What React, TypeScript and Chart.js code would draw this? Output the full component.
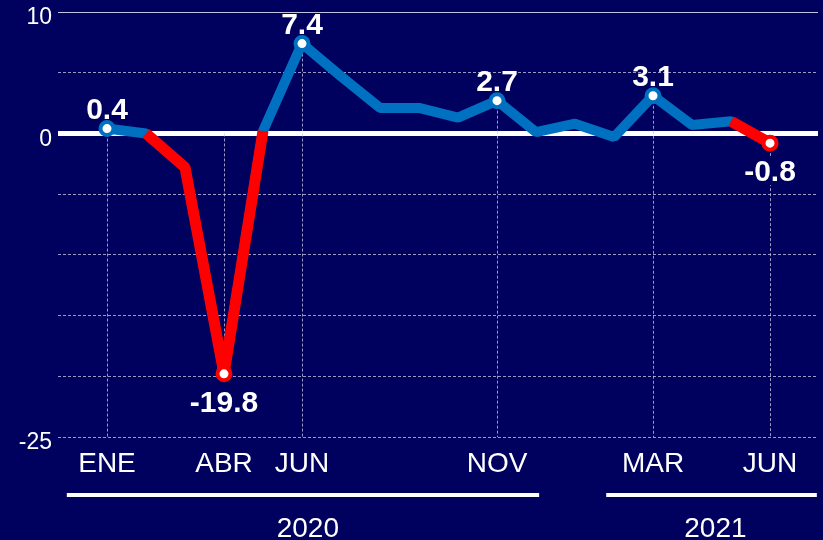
import React, { useEffect, useRef } from 'react';
import { Chart, registerables } from 'chart.js';

Chart.register(...registerables);

// ---- data ----
const months = ['ENE', 'FEB', 'MAR', 'ABR', 'MAY', 'JUN', 'JUL', 'AGO', 'SEP', 'OCT', 'NOV', 'DIC', 'ENE', 'FEB', 'MAR', 'ABR', 'MAY', 'JUN'];
const monthTicks = ['ENE', '', '', 'ABR', '', 'JUN', '', '', '', '', 'NOV', '', '', '', 'MAR', '', '', 'JUN'];
const growth = [0.4, 0.0, -2.8, -19.8, 0.2, 7.4, 4.7, 2.1, 2.1, 1.3, 2.7, 0.1, 0.8, -0.3, 3.1, 0.7, 1.0, -0.8];
const declineOverlay = [null, 0.0, -2.8, -19.8, 0.2, null, null, null, null, null, null, null, null, null, null, null, 1.0, -0.8];
const labelledPoints = [0, 3, 5, 10, 14, 17];
const guideTop = [0.4, 0, 7.4, 2.7, 3.1, -0.8];
const guideBottom = [-25, -19.8, -25, -25, -25, -25];
const yTickLabels = [10, 0, -25];
const yearLabels = ['2020', '2021'];

// ---- style ----
const BG = '#00005E';
const BLUE = '#0070C0';
const RED = '#FF0000';
const FONT = '"Liberation Sans", Arial, Helvetica, sans-serif';
const GRID = 'rgba(205,205,235,0.75)';
const yearSpan = [
  { from: -1.03, to: 11.08, center: 5.15 },
  { from: 12.8, to: 18.2, center: 15.6 },
];

const decorPlugin = {
  id: 'decor',
  beforeDatasetsDraw(chart: any) {
    const { ctx } = chart;
    const xs = chart.scales.x;
    const ys = chart.scales.y;
    ctx.save();
    // guide lines
    ctx.strokeStyle = GRID;
    ctx.lineWidth = 1;
    ctx.setLineDash([3, 2]);
    labelledPoints.forEach((idx, k) => {
      const x = Math.round(xs.getPixelForValue(idx)) + 0.5;
      ctx.beginPath();
      ctx.moveTo(x, ys.getPixelForValue(guideTop[k]));
      ctx.lineTo(x, ys.getPixelForValue(guideBottom[k]));
      ctx.stroke();
    });
    ctx.setLineDash([]);
    // value labels
    ctx.font = `bold 30px ${FONT}`;
    ctx.textAlign = 'center';
    ctx.textBaseline = 'alphabetic';
    labelledPoints.forEach((idx) => {
      const v = growth[idx];
      const px = xs.getPixelForValue(idx);
      const py = ys.getPixelForValue(v);
      const text = v.toFixed(1);
      const by = v >= 0 ? py - 10 : py + 38;
      if (v < 0) {
        const w = ctx.measureText(text).width;
        ctx.fillStyle = BG;
        ctx.fillRect(px - w / 2 - 2, by - 25, w + 4, 29);
      }
      ctx.fillStyle = '#FFFFFF';
      ctx.fillText(text, px, by);
    });
    ctx.restore();
  },
  afterDraw(chart: any) {
    const { ctx, chartArea } = chart;
    const xs = chart.scales.x;
    ctx.save();
    ctx.fillStyle = '#FFFFFF';
    ctx.strokeStyle = '#FFFFFF';
    ctx.lineWidth = 4;
    ctx.font = `28px ${FONT}`;
    ctx.textAlign = 'center';
    ctx.textBaseline = 'alphabetic';
    yearLabels.forEach((label, k) => {
      const s = yearSpan[k];
      const y = chartArea.bottom + 58;
      ctx.beginPath();
      ctx.moveTo(xs.getPixelForValue(s.from), y);
      ctx.lineTo(xs.getPixelForValue(s.to), y);
      ctx.stroke();
      ctx.fillText(label, xs.getPixelForValue(s.center), chartArea.bottom + 100);
    });
    ctx.restore();
  },
};

export default function App() {
  const canvasRef = useRef<HTMLCanvasElement | null>(null);

  useEffect(() => {
    const canvas = canvasRef.current;
    if (!canvas) return;
    const redMarkers = [3, 17];
    const chart = new Chart(canvas, {
      type: 'line',
      data: {
        datasets: [
          {
            label: 'Caída',
            data: declineOverlay.map((y, i) => ({ x: i, y })),
            borderColor: RED,
            backgroundColor: RED,
            borderWidth: 11,
            borderJoinStyle: 'bevel',
            tension: 0,
            spanGaps: false,
            pointRadius: (c: any) => (redMarkers.includes(c.dataIndex) ? 6.5 : 0),
            pointBorderColor: RED,
            pointBackgroundColor: '#FFFFFF',
            pointBorderWidth: 4,
            order: 1,
          },
          {
            label: 'Variación',
            data: growth.map((y, i) => ({ x: i, y })),
            borderColor: BLUE,
            backgroundColor: BLUE,
            borderWidth: 10,
            borderJoinStyle: 'bevel',
            tension: 0,
            pointRadius: (c: any) =>
              labelledPoints.includes(c.dataIndex) && !redMarkers.includes(c.dataIndex) ? 6.5 : 0,
            pointBorderColor: BLUE,
            pointBackgroundColor: '#FFFFFF',
            pointBorderWidth: 4,
            order: 2,
          },
        ],
      },
      options: {
        animation: false,
        responsive: false,
        events: [],
        layout: { autoPadding: false, padding: { top: 12, right: 5, left: 0, bottom: 0 } },
        plugins: { legend: { display: false }, tooltip: { enabled: false } },
        scales: {
          x: {
            type: 'linear',
            min: -1.256,
            max: 18.23,
            afterBuildTicks: (s: any) => {
              s.ticks = months.map((_, i) => ({ value: i }));
            },
            afterFit: (s: any) => {
              s.height = 103;
              s.paddingLeft = 0;
              s.paddingRight = 0;
            },
            grid: { display: false, drawTicks: false },
            border: { display: false },
            ticks: {
              autoSkip: false,
              maxRotation: 0,
              padding: 10,
              color: '#FFFFFF',
              font: { family: FONT, size: 28 },
              callback: (v: any) => monthTicks[v] ?? '',
            },
          },
          y: {
            min: -25,
            max: 10,
            afterFit: (s: any) => {
              s.width = 58;
              s.paddingTop = 0;
              s.paddingBottom = 0;
            },
            ticks: {
              stepSize: 5,
              padding: 6,
              color: '#FFFFFF',
              font: { family: FONT, size: 23 },
              labelOffset: 6,
              callback: (v: any) => (yTickLabels.includes(v) ? String(v) : ''),
            },
            grid: {
              drawTicks: false,
              color: (c: any) => {
                const v = c.tick && c.tick.value;
                if (v === 0) return '#FFFFFF';
                if (v === 10) return 'rgba(215,215,240,0.9)';
                return GRID;
              },
              lineWidth: (c: any) => (c.tick && c.tick.value === 0 ? 5 : 1),
            },
            border: {
              display: false,
              dash: (c: any) => {
                const v = c.tick && c.tick.value;
                return v === 0 || v === 10 ? [] : [3, 2];
              },
            },
          },
        },
      },
      plugins: [decorPlugin],
    } as any);
    return () => chart.destroy();
  }, []);

  return (
    <div
      style={{
        position: 'absolute',
        left: 0,
        top: 0,
        width: 823,
        height: 540,
        background: BG,
        overflow: 'hidden',
      }}
    >
      <canvas ref={canvasRef} width={823} height={540} />
    </div>
  );
}
